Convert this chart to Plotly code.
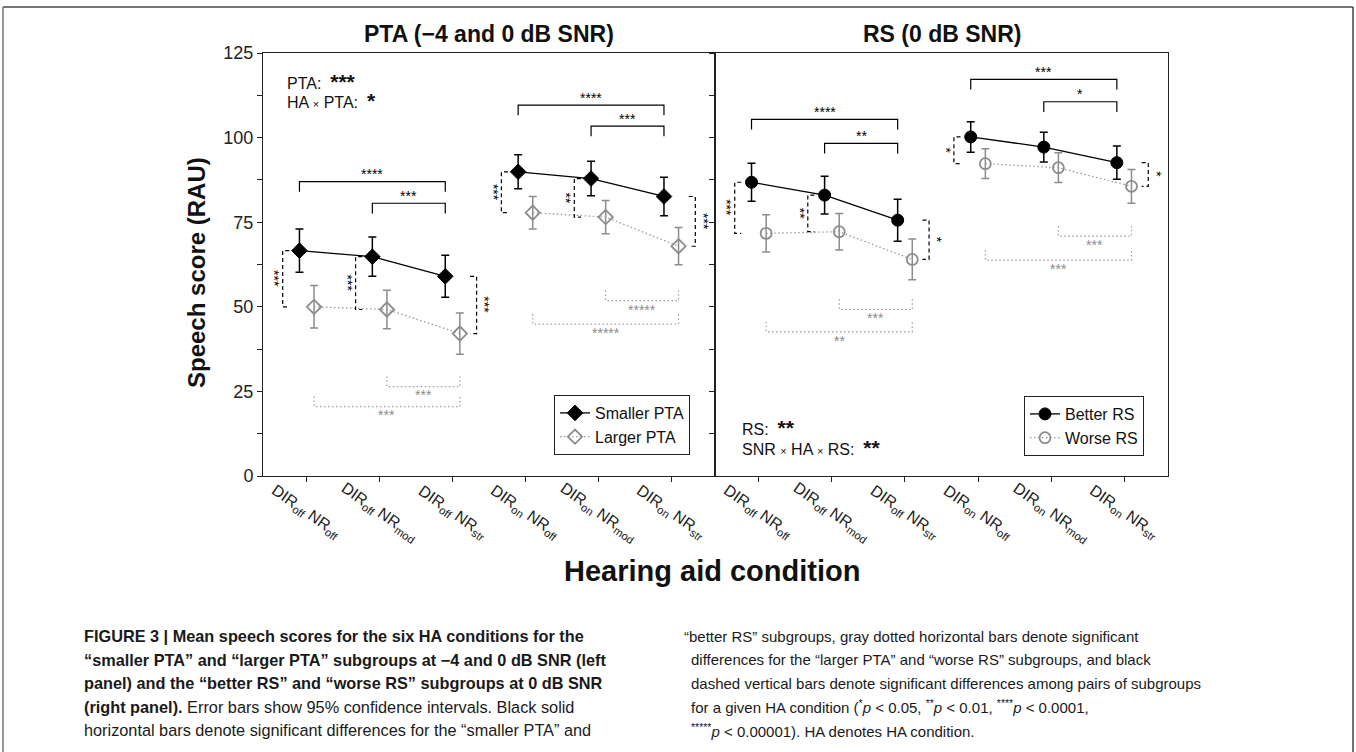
import plotly.graph_objects as go

W, H = 1356, 752

conditions = [0, 1, 2, 3, 4, 5]
cond_labels = [
    "DIR<sub>off</sub> NR<sub>off</sub>",
    "DIR<sub>off</sub> NR<sub>mod</sub>",
    "DIR<sub>off</sub> NR<sub>str</sub>",
    "DIR<sub>on</sub> NR<sub>off</sub>",
    "DIR<sub>on</sub> NR<sub>mod</sub>",
    "DIR<sub>on</sub> NR<sub>str</sub>",
]

# left panel, PTA subgroups (-4 and 0 dB SNR)
pta_small = [66.6, 64.8, 59.0, 89.9, 87.9, 82.6]
pta_small_ci = [6.4, 5.8, 6.2, 5.0, 5.1, 5.7]
pta_large = [50.0, 49.2, 42.1, 77.8, 76.5, 67.9]
pta_large_ci = [6.3, 5.7, 6.1, 4.8, 4.9, 5.5]

# right panel, RS subgroups (0 dB SNR)
rs_better = [86.8, 83.0, 75.6, 100.2, 97.2, 92.6]
rs_better_ci = [5.6, 5.6, 6.2, 4.5, 4.4, 4.9]
rs_worse = [71.7, 72.2, 64.0, 92.3, 91.1, 85.6]
rs_worse_ci = [5.5, 5.4, 6.0, 4.4, 4.4, 5.0]

# significance bars: (from condition, to condition, bar level, stars)
pta_black_sig = [(0, 2, 87.0, "****"), (1, 2, 80.6, "***"), (3, 5, 109.6, "****"), (4, 5, 103.4, "***")]
pta_gray_sig = [(1, 2, 26.4, "***"), (0, 2, 20.5, "***"), (4, 5, 51.8, "*****"), (3, 5, 44.9, "*****")]
rs_black_sig = [(0, 2, 105.4, "****"), (1, 2, 98.3, "**"), (3, 5, 117.2, "***"), (4, 5, 110.6, "*")]
rs_gray_sig = [(4, 5, 70.9, "***"), (3, 5, 63.8, "***"), (1, 2, 49.2, "***"), (0, 2, 42.6, "**")]
# between-subgroup bars: (condition, side -1 left / +1 right, stars)
pta_pair_sig = [(0, -1, "***"), (1, -1, "***"), (2, 1, "***"), (3, -1, "***"), (4, -1, "**"), (5, 1, "***")]
rs_pair_sig = [(0, -1, "***"), (1, -1, "**"), (2, 1, "*"), (3, -1, "*"), (5, 1, "*")]

caption_left = [
    "<b>FIGURE 3 | Mean speech scores for the six HA conditions for the</b>",
    "<b>“smaller PTA” and “larger PTA” subgroups at −4 and 0 dB SNR (left</b>",
    "<b>panel) and the “better RS” and “worse RS” subgroups at 0 dB SNR</b>",
    "<b>(right panel).</b> Error bars show 95% confidence intervals. Black solid",
    "horizontal bars denote significant differences for the “smaller PTA” and",
]
caption_right = [
    "“better RS” subgroups, gray dotted horizontal bars denote significant",
    "differences for the “larger PTA” and “worse RS” subgroups, and black",
    "dashed vertical bars denote significant differences among pairs of subgroups",
    "for a given HA condition (<sup>*</sup><i>p</i> &lt; 0.05, <sup>**</sup><i>p</i> &lt; 0.01, <sup>****</sup><i>p</i> &lt; 0.0001,",
    "<sup>*****</sup><i>p</i> &lt; 0.00001). HA denotes HA condition.",
]

FONT = "Liberation Sans, Arial, sans-serif"
GRAY = "#8c8c8c"
GRAY_LINE = "#9a9a9a"
DOTS = "1.5px,2.5px"


def px(x):
    return x / W


def py(y):
    return 1 - y / H


def gap(vals, fill=None):
    # break the line between DIR off and DIR on groups
    return list(vals[:3]) + [fill] + list(vals[3:])


fig = go.Figure()


def add_series(xr, yr, means, ci, shift, name, legend, black):
    xs = gap([c + shift for c in conditions])
    if black:
        marker = dict(symbol=legend[1], size=12, color="black", line=dict(color="black", width=1))
        line = dict(color="black", width=1.3)
        ecol = "black"
    else:
        marker = dict(symbol=legend[1] + "-open", size=11, color=GRAY, line=dict(color=GRAY, width=1.8))
        line = dict(color=GRAY_LINE, width=1.3, dash=DOTS)
        ecol = GRAY
    fig.add_trace(go.Scatter(
        x=xs, y=gap(means), xaxis=xr, yaxis=yr,
        mode="lines+markers", name=name, legend=legend[0],
        marker=marker, line=line, connectgaps=False,
        error_y=dict(type="data", array=gap(ci, 0), color=ecol, thickness=1.5, width=4),
    ))


add_series("x", "y", pta_small, pta_small_ci, -0.1, "Smaller PTA", ("legend", "diamond"), True)
add_series("x", "y", pta_large, pta_large_ci, 0.1, "Larger PTA", ("legend", "diamond"), False)
add_series("x2", "y2", rs_better, rs_better_ci, -0.1, "Better RS", ("legend2", "circle"), True)
add_series("x2", "y2", rs_worse, rs_worse_ci, 0.1, "Worse RS", ("legend2", "circle"), False)

annotations = []


def note(x, y, text, size, color="#111", **kw):
    # text placed in figure pixels of the reference picture
    d = dict(x=px(x), y=py(y), xref="paper", yref="paper", text=text, showarrow=False,
             xanchor="center", yanchor="middle", font=dict(family=FONT, size=size, color=color))
    d.update(kw)
    annotations.append(d)


def add_sig(xr, yr, sigs, black):
    for a, b, lev, stars in sigs:
        if black:
            x0, x1 = a - 0.1, b - 0.1
            ys = [lev - 3, lev, lev, lev - 3]
            ty = lev + 2.2
            ln = dict(color="black", width=1.2)
            col = "black"
        else:
            x0, x1 = a + 0.1, b + 0.1
            ys = [lev + 3, lev, lev, lev + 3]
            ty = lev - 2.6
            ln = dict(color=GRAY_LINE, width=1.2, dash=DOTS)
            col = GRAY
        fig.add_trace(go.Scatter(x=[x0, x0, x1, x1], y=ys, xaxis=xr, yaxis=yr, mode="lines",
                                 line=ln, showlegend=False, hoverinfo="skip"))
        annotations.append(dict(x=(x0 + x1) / 2, y=ty, xref=xr, yref=yr, text=stars, showarrow=False,
                                xanchor="center", yanchor="middle",
                                font=dict(family=FONT, size=14, color=col)))


def add_pairs(xr, yr, pairs, top_vals, bot_vals):
    for i, side, stars in pairs:
        top, bot = top_vals[i], bot_vals[i]
        xi, xo = i + side * 0.24, i + side * 0.33
        fig.add_trace(go.Scatter(x=[xi, xo, xo, xi], y=[top, top, bot, bot], xaxis=xr, yaxis=yr,
                                 mode="lines", line=dict(color="black", width=1.2, dash="4px,3px"),
                                 showlegend=False, hoverinfo="skip"))
        annotations.append(dict(x=i + side * 0.44, y=(top + bot) / 2, xref=xr, yref=yr, text=stars,
                                textangle=89.5, showarrow=False, xanchor="center", yanchor="middle",
                                font=dict(family=FONT, size=14, color="black")))


add_sig("x", "y", pta_black_sig, True)
add_sig("x", "y", pta_gray_sig, False)
add_sig("x2", "y2", rs_black_sig, True)
add_sig("x2", "y2", rs_gray_sig, False)
add_pairs("x", "y", pta_pair_sig, pta_small, pta_large)
add_pairs("x2", "y2", rs_pair_sig, rs_better, rs_worse)

# category labels under each panel
for xr in ("x", "x2"):
    for c, lab in zip(conditions, cond_labels):
        annotations.append(dict(x=c, y=py(512), xref=xr, yref="paper", text=lab, textangle=35,
                                showarrow=False, xanchor="center", yanchor="middle",
                                font=dict(family=FONT, size=16, color="#222")))

big = "<span style='font-size:21px'><b>%s</b></span>"
times = "<span style='font-size:11px'>×</span>"
note(285, 81, "PTA:  " + big % "***", 16, xanchor="left")
note(285, 101, "HA " + times + " PTA:  " + big % "*", 16, xanchor="left")
note(740, 427, "RS:  " + big % "**", 16, xanchor="left")
note(740, 447, "SNR " + times + " HA " + times + " RS:  " + big % "**", 16, xanchor="left")

note(489, 34, "<b>PTA (−4 and 0 dB SNR)</b>", 23)
note(942, 34, "<b>RS (0 dB SNR)</b>", 23)
note(197, 273, "<b>Speech score (RAU)</b>", 24, textangle=-90)
note(712, 571, "<b>Hearing aid condition</b>", 29)

for k, (l, r) in enumerate(zip(caption_left, caption_right)):
    yc = 636 + k * 23.5
    note(82, yc, l, 16.3, "#1a1a1a", xanchor="left")
    note(682 if k == 0 else 689, yc, r, 15, "#1a1a1a", xanchor="left")

xl = [px(263), px(715)]
xr_dom = [px(715), px(1168)]
yd = [py(476), py(53)]
base = dict(showline=True, linecolor="#222", linewidth=1, mirror=True, ticks="outside", ticklen=5,
            tickcolor="#222", showgrid=False, zeroline=False, automargin=False)
ytick = dict(range=[0, 125], tickvals=[0, 25, 50, 75, 100, 125],
             minor=dict(dtick=12.5, tick0=0, ticks="outside", ticklen=5, tickcolor="#222"))
over = dict(showline=False, showgrid=False, zeroline=False, showticklabels=False, ticks="inside",
            ticklen=5, tickcolor="#222", automargin=False)

fig.update_layout(
    template="none",
    width=W, height=H, margin=dict(l=0, r=0, t=0, b=0, pad=0), autosize=False,
    paper_bgcolor="white", plot_bgcolor="white", showlegend=True,
    xaxis=dict(domain=xl, range=[-0.6, 5.6], tickvals=conditions, showticklabels=False, anchor="y", **base),
    yaxis=dict(domain=yd, anchor="x", tickfont=dict(family=FONT, size=18, color="#222"), **ytick, **base),
    xaxis2=dict(domain=xr_dom, range=[-0.6, 5.6], tickvals=conditions, showticklabels=False, anchor="y2", **base),
    yaxis2=dict(domain=yd, anchor="x2", showticklabels=False, **ytick, **base),
    xaxis3=dict(overlaying="x", side="top", anchor="y", range=[-0.6, 5.6], tickvals=conditions, **over),
    xaxis4=dict(overlaying="x2", side="top", anchor="y2", range=[-0.6, 5.6], tickvals=conditions, **over),
    yaxis3=dict(overlaying="y2", side="right", anchor="x2", range=[0, 125], dtick=12.5, tick0=0, **over),
    legend=dict(x=px(690), y=py(455), xanchor="right", yanchor="bottom", bgcolor="white",
                bordercolor="#222", borderwidth=1, tracegroupgap=0,
                font=dict(family=FONT, size=16, color="#111")),
    legend2=dict(x=px(1144), y=py(456), xanchor="right", yanchor="bottom", bgcolor="white",
                 bordercolor="#222", borderwidth=1, tracegroupgap=0,
                 font=dict(family=FONT, size=16, color="#111")),
    annotations=annotations,
    shapes=[
        dict(type="line", xref="paper", yref="paper", x0=px(3), x1=px(1353), y0=py(7), y1=py(7),
             line=dict(color="#777", width=2)),
        dict(type="line", xref="paper", yref="paper", x0=px(3), x1=px(3), y0=py(7), y1=0,
             line=dict(color="#777", width=1.5)),
        dict(type="line", xref="paper", yref="paper", x0=px(1353), x1=px(1353), y0=py(7), y1=0,
             line=dict(color="#444", width=1.5)),
    ],
)

fig.write_html("out.html", config={"displayModeBar": False},
               post_script="document.body.style.margin='0';")
